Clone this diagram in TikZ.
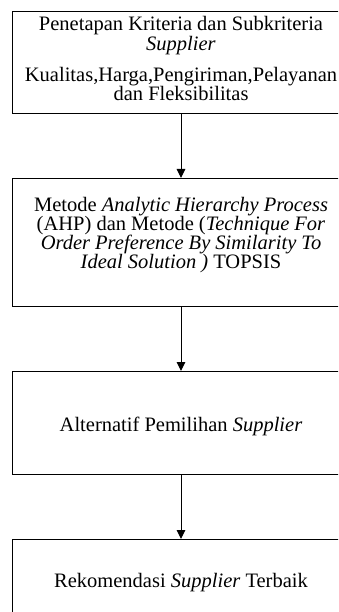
\documentclass[tikz,border=0pt]{standalone}
\usepackage{fontspec}
\setmainfont{Liberation Serif}[ItalicFont={Liberation Serif Italic},BoldFont={Liberation Serif Bold}]
\usetikzlibrary{arrows.meta}
\begin{document}
\begin{tikzpicture}[x=1pt,y=1pt,
  box/.style={draw=black,line width=1pt,minimum width=336.6pt,inner sep=0pt,anchor=north},
  txt/.style={anchor=base,inner sep=0pt,font=\fontsize{20.5}{19}\selectfont},
  conn/.style={draw=black,line width=1pt,-{Triangle[width=8.5pt,length=9pt]}}]
\useasboundingbox (0,0) rectangle (338,-612);
\clip (0,0) rectangle (338,-612);
% boxes
\node[box,minimum height=102.3pt] (b1) at (181,-10.7) {};
\node[box,minimum height=128pt] (b2) at (181,-178) {};
\node[box,minimum height=103pt] (b3) at (181,-371) {};
\node[box,minimum height=110pt] (b4) at (181,-539) {};
% texts box 1
\node[txt] (t11) at (181,-30.7) {Penetapan Kriteria dan Subkriteria};
\node[txt] (t12) at (181,-50.5) {\textit{Supplier}};
\node[txt] (t13) at (181,-81.5) {Kualitas,Harga,Pengiriman,Pelayanan};
\node[txt] (t14) at (181,-101) {dan Fleksibilitas};
% texts box 2
\node[txt] (t21) at (181,-211.7) {Metode \textit{Analytic Hierarchy Process}};
\node[txt] (t22) at (181,-230.5) {(AHP) dan Metode (\textit{Technique For}};
\node[txt] (t23) at (181,-249.3) {\textit{Order Preference By Similarity To}};
\node[txt] (t24) at (181,-268) {\textit{Ideal Solution )} TOPSIS};
% box 3
\node[txt] (t31) at (181,-431) {Alternatif Pemilihan \textit{Supplier}};
% box 4
\node[txt] (t41) at (181,-587) {Rekomendasi \textit{Supplier} Terbaik};
% connectors
\draw[conn] (b1.south) -- (b2.north);
\draw[conn] (b2.south) -- (b3.north);
\draw[conn] (b3.south) -- (b4.north);
\end{tikzpicture}
\end{document}
